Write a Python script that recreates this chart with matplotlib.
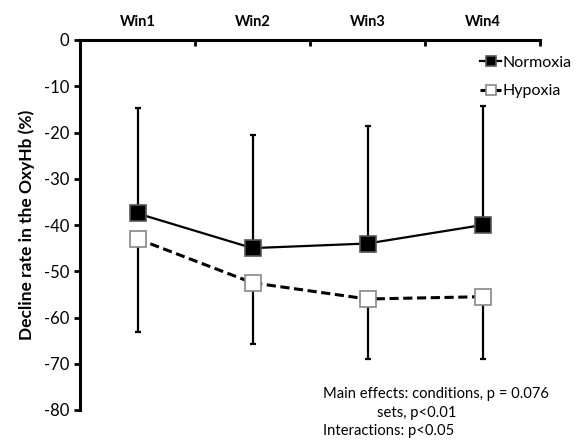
import numpy as np
import matplotlib
matplotlib.use("Agg")
import matplotlib.pyplot as plt
from matplotlib.ticker import FixedLocator, NullFormatter

plt.rcParams['font.family'] = ['Lato', 'DejaVu Sans']
plt.rcParams['axes.unicode_minus'] = False

windows = ['Win1', 'Win2', 'Win3', 'Win4']
normoxia = [-37.5, -45.0, -44.0, -40.0]
normoxia_err_up = [22.7, 24.5, 25.5, 25.8]
hypoxia = [-43.0, -52.5, -56.0, -55.5]
hypoxia_err_down = [20.2, 13.3, 13.0, 13.5]

x = np.arange(1, len(windows) + 1)

fig = plt.figure(figsize=(5.77, 4.46), dpi=100)
ax = fig.add_axes([80 / 577, 1 - 410 / 446, 460 / 577, 370 / 446])

ax.errorbar(x, normoxia, yerr=[np.zeros(4), normoxia_err_up], fmt='none',
            ecolor='black', elinewidth=1.6, capsize=2, capthick=1.6, zorder=2)
ax.errorbar(x, hypoxia, yerr=[hypoxia_err_down, np.zeros(4)], fmt='none',
            ecolor='black', elinewidth=1.6, capsize=2, capthick=1.6, zorder=2)

ax.plot(x, normoxia, '-', color='black', lw=1.6, marker='s', markersize=11,
        markerfacecolor='black', markeredgecolor='#555555', markeredgewidth=1.2,
        label='Normoxia', zorder=3)
ax.plot(x, hypoxia, '--', color='black', lw=2.2, dashes=(3, 1.5), marker='s', markersize=11,
        markerfacecolor='white', markeredgecolor='#888888', markeredgewidth=1.2,
        label='Hypoxia', zorder=3)

ax.set_xlim(0.5, 4.5)
ax.set_ylim(-80, 0)

ax.spines['bottom'].set_visible(False)
ax.spines['right'].set_visible(False)
ax.spines['top'].set_linewidth(2.2)
ax.spines['left'].set_linewidth(2.2)

ax.xaxis.tick_top()
ax.xaxis.set_major_locator(FixedLocator([0.5, 1.5, 2.5, 3.5, 4.5]))
ax.xaxis.set_major_formatter(NullFormatter())
ax.xaxis.set_minor_locator(FixedLocator(x))
ax.set_xticklabels(windows, minor=True, fontweight='bold', fontsize=10.5)
ax.tick_params(axis='x', which='major', direction='in', length=4, width=2)
ax.tick_params(axis='x', which='minor', length=0, pad=8)

ax.set_yticks(np.arange(-80, 1, 10))
ax.tick_params(axis='y', direction='out', length=4, width=2, labelsize=12, pad=4)
ax.set_ylabel('Decline rate in the OxyHb (%)', fontweight='bold', fontsize=12.5, labelpad=6)

leg = ax.legend(loc='upper left', bbox_to_anchor=(0.856, 0.975), frameon=False, fontsize=11.5,
                handlelength=1.3, handletextpad=0.1, labelspacing=0.9, markerscale=0.6,
                borderaxespad=0)

ax.text(0.528, 0.062, 'Main effects: conditions, p = 0.076', transform=ax.transAxes,
        ha='left', va='top', fontsize=10.6)
ax.text(0.645, 0.012, 'sets, p<0.01', transform=ax.transAxes,
        ha='left', va='top', fontsize=10.6)
ax.text(0.528, -0.038, 'Interactions: p<0.05', transform=ax.transAxes,
        ha='left', va='top', fontsize=10.6)

fig.savefig('out.png', dpi=100)
